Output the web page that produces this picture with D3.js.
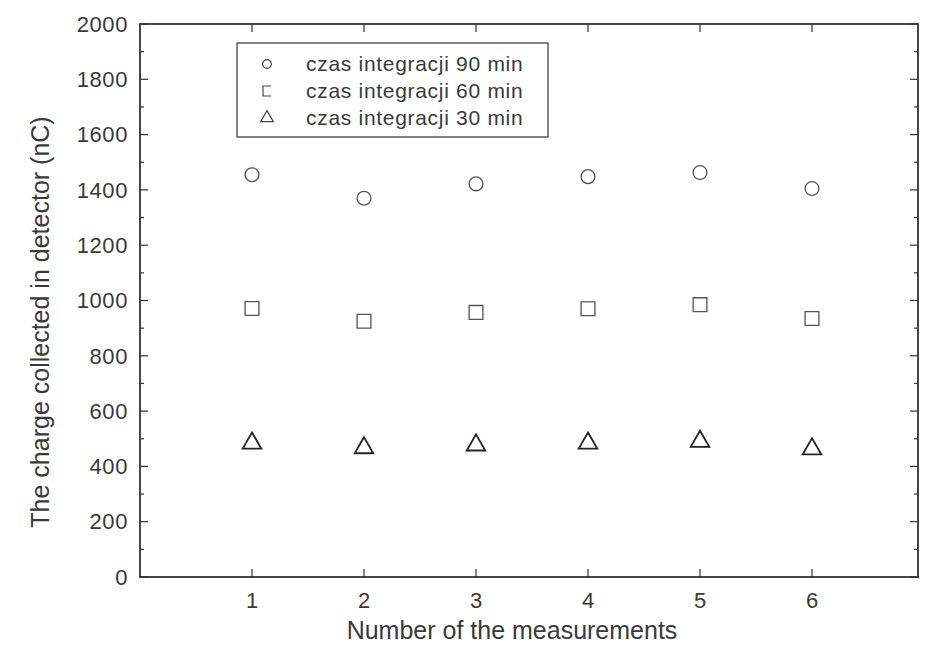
<!doctype html>
<html>
    <head>
        <script src="https://d3js.org/d3.v7.min.js"></script>
        <style>
            body { margin: 0; background: #fff; }
            text { font-family: "Liberation Sans", Arial, sans-serif; fill: #3a3a3a; }
        </style>
    </head>
    <body>
        <script>
            // measurement numbers and the three series
            var measurements = [1, 2, 3, 4, 5, 6];
            var charge90 = [1455, 1370, 1422, 1448, 1463, 1405];
            var charge60 = [971, 925, 957, 970, 985, 935];
            var charge30 = [484, 467, 477, 484, 490, 463];
            var seriesNames = ["czas integracji 90 min", "czas integracji 60 min", "czas integracji 30 min"];
            var seriesShapes = ["circle", "square", "triangle"];
            var yTicks = [0, 200, 400, 600, 800, 1000, 1200, 1400, 1600, 1800, 2000];

            var width = 935, height = 653;
            // note: "top" is taken by window.top, so use plot* names
            var plotLeft = 140, plotRight = 918, plotTop = 24, plotBottom = 577;

            var svg = d3.select("body").append("svg")
                .attr("width", width)
                .attr("height", height);

            var x = d3.scaleLinear().domain([0, 7]).range([plotLeft, plotLeft + 784]);
            var y = d3.scaleLinear().domain([0, 2000]).range([plotBottom, plotTop]);

            var ink = "#333";
            var minorY = d3.range(100, 2000, 200);

            // frame
            svg.append("rect")
                .attr("x", plotLeft).attr("y", plotTop)
                .attr("width", plotRight - plotLeft).attr("height", plotBottom - plotTop)
                .attr("fill", "none").attr("stroke", ink).attr("stroke-width", 1.8);

            // inward ticks on all four sides
            var ticks = svg.append("g").attr("stroke", ink).attr("stroke-width", 1.2);
            yTicks.forEach(function (v) {
                ticks.append("line").attr("x1", plotLeft).attr("x2", plotLeft + 8).attr("y1", y(v)).attr("y2", y(v));
                ticks.append("line").attr("x1", plotRight).attr("x2", plotRight - 8).attr("y1", y(v)).attr("y2", y(v));
            });
            minorY.forEach(function (v) {
                ticks.append("line").attr("x1", plotLeft).attr("x2", plotLeft + 4).attr("y1", y(v)).attr("y2", y(v));
                ticks.append("line").attr("x1", plotRight).attr("x2", plotRight - 4).attr("y1", y(v)).attr("y2", y(v));
            });
            measurements.forEach(function (m) {
                ticks.append("line").attr("x1", x(m)).attr("x2", x(m)).attr("y1", plotBottom).attr("y2", plotBottom - 8);
                ticks.append("line").attr("x1", x(m)).attr("x2", x(m)).attr("y1", plotTop).attr("y2", plotTop + 8);
            });

            // tick labels
            svg.append("g").selectAll("text")
                .data(yTicks).enter().append("text")
                .attr("x", plotLeft - 12).attr("y", function (d) { return y(d); })
                .attr("dy", "0.35em").attr("text-anchor", "end")
                .attr("font-size", 22).attr("letter-spacing", 0.6)
                .text(function (d) { return d; });

            svg.append("g").selectAll("text")
                .data(measurements).enter().append("text")
                .attr("x", function (d) { return x(d); }).attr("y", 608)
                .attr("text-anchor", "middle")
                .attr("font-size", 22).text(function (d) { return d; });

            // axis titles
            svg.append("text")
                .attr("x", 512).attr("y", 639)
                .attr("text-anchor", "middle").attr("font-size", 25)
                .text("Number of the measurements");

            svg.append("text")
                .attr("transform", "translate(49,322) rotate(-90)")
                .attr("text-anchor", "middle").attr("font-size", 25)
                .text("The charge collected in detector (nC)");

            // markers
            var symbolFor = {
                circle: d3.symbol().type(d3.symbolCircle).size(150),
                square: d3.symbol().type(d3.symbolSquare).size(190),
                triangle: d3.symbol().type(d3.symbolTriangle).size(150)
            };
            var allSeries = [charge90, charge60, charge30];

            allSeries.forEach(function (values, i) {
                svg.append("g").selectAll("path")
                    .data(values).enter().append("path")
                    .attr("transform", function (d, j) {
                        return "translate(" + x(measurements[j]) + "," + y(d) + ")";
                    })
                    .attr("d", symbolFor[seriesShapes[i]])
                    .attr("fill", "none")
                    .attr("stroke", i == 2 ? "#222" : "#555")
                    .attr("stroke-width", i == 2 ? 1.8 : 1.3);
            });

            // legend
            var legend = svg.append("g").attr("transform", "translate(237,43)");
            legend.append("rect")
                .attr("width", 311).attr("height", 94)
                .attr("fill", "#fff").attr("stroke", ink).attr("stroke-width", 1.2);

            // the 60 min symbol in the legend is printed as an open bracket
            var legendSymbol = {
                circle: d3.symbol().type(d3.symbolCircle).size(60),
                square: function () { return "M4,-5H-4V5H4"; },
                triangle: d3.symbol().type(d3.symbolTriangle).size(70)
            };

            seriesNames.forEach(function (name, i) {
                var row = legend.append("g").attr("transform", "translate(0," + (21 + i * 27) + ")");
                row.append("path")
                    .attr("transform", "translate(30,0)")
                    .attr("d", legendSymbol[seriesShapes[i]])
                    .attr("fill", "none").attr("stroke", "#444").attr("stroke-width", 1.2);
                row.append("text")
                    .attr("x", 69).attr("dy", "0.35em")
                    .attr("font-size", 21).attr("letter-spacing", 0.7)
                    .text(name);
            });
        </script>
    </body>
</html>
